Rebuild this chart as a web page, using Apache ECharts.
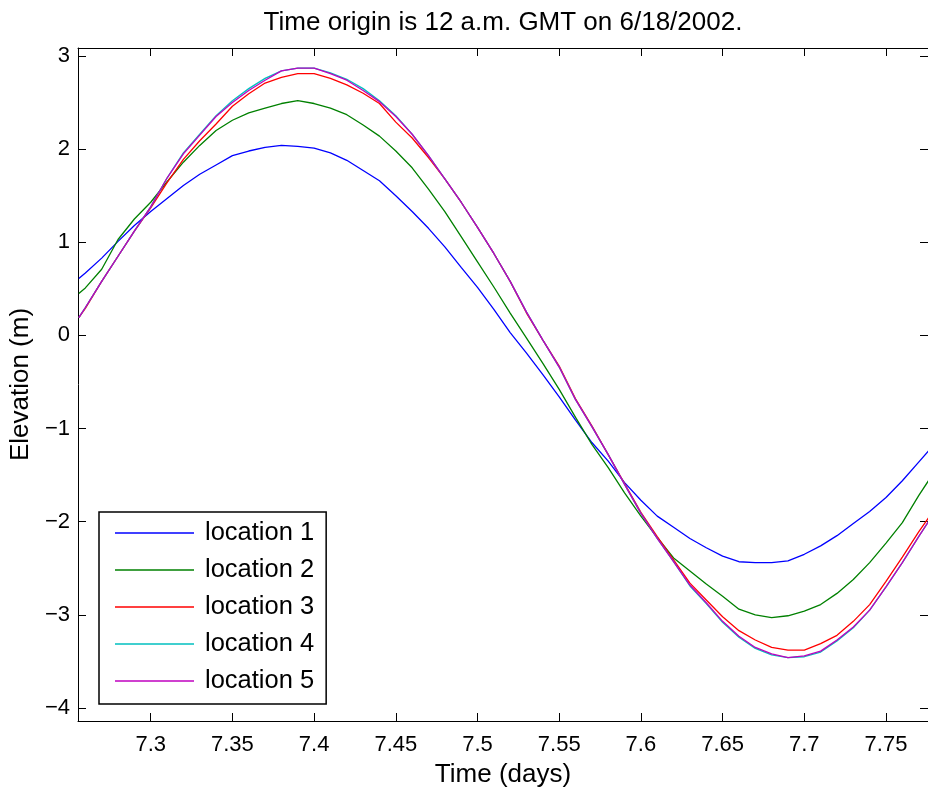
<!DOCTYPE html>
<html>
<head>
<meta charset="utf-8">
<script src="https://cdn.jsdelivr.net/npm/echarts@6/dist/echarts.min.js"></script>
<style>
html,body{margin:0;padding:0;background:#fff;}
#chart{width:928px;height:794px;}
</style>
</head>
<body>
<div id="chart"></div>
<script>
// Time (days since origin)
const time = [7.256, 7.26, 7.27, 7.28, 7.29, 7.30, 7.31, 7.32, 7.33, 7.34, 7.35, 7.36, 7.37, 7.38, 7.39, 7.40,
  7.41, 7.42, 7.43, 7.44, 7.45, 7.46, 7.47, 7.48, 7.49, 7.50, 7.51, 7.52, 7.53, 7.54, 7.55, 7.56, 7.57, 7.58,
  7.59, 7.60, 7.61, 7.62, 7.63, 7.64, 7.65, 7.66, 7.67, 7.68, 7.69, 7.70, 7.71, 7.72, 7.73, 7.74, 7.75, 7.76,
  7.77, 7.776];

const location1 = [0.61, 0.67, 0.83, 1.01, 1.18, 1.33, 1.47, 1.61, 1.73, 1.83, 1.93, 1.98, 2.02, 2.04, 2.03, 2.01,
  1.96, 1.88, 1.77, 1.66, 1.50, 1.33, 1.15, 0.95, 0.73, 0.515, 0.28, 0.03, -0.19, -0.42, -0.66, -0.91, -1.15, -1.35,
  -1.58, -1.77, -1.94, -2.06, -2.18, -2.28, -2.37, -2.43, -2.44, -2.44, -2.42, -2.35, -2.26, -2.15, -2.02, -1.89, -1.74, -1.56,
  -1.36, -1.24];

const location2 = [0.45, 0.51, 0.71, 1.03, 1.25, 1.43, 1.65, 1.86, 2.04, 2.20, 2.31, 2.39, 2.44, 2.49, 2.52, 2.49,
  2.44, 2.37, 2.26, 2.14, 1.98, 1.80, 1.57, 1.33, 1.06, 0.79, 0.52, 0.24, -0.03, -0.30, -0.58, -0.88, -1.17, -1.42,
  -1.69, -1.94, -2.17, -2.39, -2.53, -2.67, -2.80, -2.94, -3.00, -3.03, -3.01, -2.96, -2.89, -2.77, -2.62, -2.44, -2.23, -2.01,
  -1.72, -1.56];

const location3 = [0.19, 0.29, 0.58, 0.85, 1.12, 1.37, 1.64, 1.89, 2.09, 2.27, 2.46, 2.595, 2.71, 2.77, 2.81, 2.81,
  2.76, 2.69, 2.60, 2.49, 2.29, 2.12, 1.91, 1.68, 1.43, 1.16, 0.88, 0.58, 0.24, -0.05, -0.33, -0.68, -0.97, -1.28,
  -1.59, -1.90, -2.16, -2.41, -2.66, -2.84, -3.02, -3.17, -3.27, -3.35, -3.38, -3.38, -3.31, -3.22, -3.07, -2.89, -2.64, -2.38,
  -2.11, -1.96];

const location4 = [0.19, 0.30, 0.58, 0.85, 1.12, 1.38, 1.69, 1.96, 2.16, 2.36, 2.52, 2.65, 2.76, 2.84, 2.87, 2.87,
  2.82, 2.75, 2.65, 2.52, 2.36, 2.16, 1.93, 1.68, 1.43, 1.16, 0.88, 0.58, 0.25, -0.05, -0.34, -0.69, -0.98, -1.28,
  -1.60, -1.91, -2.18, -2.43, -2.69, -2.88, -3.08, -3.24, -3.36, -3.43, -3.46, -3.45, -3.40, -3.28, -3.14, -2.95, -2.70, -2.44,
  -2.16, -2.00];

const location5 = [0.19, 0.30, 0.58, 0.85, 1.12, 1.38, 1.69, 1.95, 2.15, 2.35, 2.50, 2.63, 2.74, 2.84, 2.87, 2.87,
  2.81, 2.74, 2.63, 2.51, 2.35, 2.16, 1.93, 1.68, 1.43, 1.16, 0.88, 0.58, 0.25, -0.05, -0.34, -0.69, -0.98, -1.28,
  -1.60, -1.91, -2.18, -2.43, -2.68, -2.87, -3.07, -3.23, -3.35, -3.42, -3.46, -3.44, -3.39, -3.27, -3.13, -2.95, -2.70, -2.44,
  -2.16, -2.00];

const seriesNames = ['location 1', 'location 2', 'location 3', 'location 4', 'location 5'];
const seriesValues = [location1, location2, location3, location4, location5];
const seriesColors = ['#0000ff', '#008000', '#ff0000', '#00bfbf', '#bf00bf'];

const xMin = 7.2555, xMax = 7.7757;
const yMin = -4.14, yMax = 3.086;

const FONT = 'Liberation Sans, Arial, Helvetica, sans-serif';

const chart = echarts.init(document.getElementById('chart'), null, {renderer: 'canvas'});

function pairs(vals) { return time.map((t, i) => [t, vals[i]]); }

const axisCommon = {
  axisLine: {show: true, onZero: false, lineStyle: {color: '#000', width: 1}},
  axisTick: {show: true, inside: true, length: 8, lineStyle: {color: '#000', width: 1}},
  splitLine: {show: false}
};

const option = {
  animation: false,
  backgroundColor: '#fff',
  title: {
    text: 'Time origin is 12 a.m. GMT on 6/18/2002.',
    left: 498, top: 5, textAlign: 'center',
    textStyle: {fontFamily: FONT, fontSize: 26, fontWeight: 'normal', color: '#000'}
  },
  grid: {left: 78, right: 0, top: 48, bottom: 73, containLabel: false},
  legend: {
    orient: 'vertical',
    left: 99, top: 512,
    data: seriesNames,
    icon: 'rect',
    itemWidth: 79, itemHeight: 1.5,
    itemGap: 11,
    padding: [8, 12, 10, 16],
    borderColor: '#000', borderWidth: 1.5,
    backgroundColor: '#fff',
    textStyle: {fontFamily: FONT, fontSize: 25.5, color: '#000', lineHeight: 26, padding: [0, 0, 0, 6]}
  },
  xAxis: [
    Object.assign({
      type: 'value', position: 'bottom', min: xMin, max: xMax, splitNumber: 10,
      name: 'Time (days)', nameLocation: 'middle', nameGap: 41,
      nameTextStyle: {fontFamily: FONT, fontSize: 26, color: '#000'},
      axisLabel: {show: true, margin: 13, fontFamily: FONT, fontSize: 22, color: '#000',
        showMinLabel: false, showMaxLabel: false}
    }, axisCommon),
    Object.assign({
      type: 'value', position: 'top', min: xMin, max: xMax, splitNumber: 10,
      axisLabel: {show: false}
    }, axisCommon)
  ],
  yAxis: [
    Object.assign({
      type: 'value', position: 'left', min: yMin, max: yMax, splitNumber: 7,
      name: 'Elevation (m)', nameLocation: 'middle', nameGap: 43,
      nameTextStyle: {fontFamily: FONT, fontSize: 26, color: '#000'},
      axisLabel: {show: true, margin: 8, fontFamily: FONT, fontSize: 22, color: '#000',
        showMinLabel: false, showMaxLabel: false,
        formatter: v => String(v).replace('-', '\u2212')}
    }, axisCommon),
    Object.assign({
      type: 'value', position: 'right', min: yMin, max: yMax, splitNumber: 7,
      axisLabel: {show: false}
    }, axisCommon)
  ],
  series: seriesNames.map((name, i) => ({
    name: name,
    type: 'line',
    data: pairs(seriesValues[i]),
    xAxisIndex: 0, yAxisIndex: 0,
    showSymbol: false, symbol: 'none',
    smooth: false,
    lineStyle: {color: seriesColors[i], width: 1.3},
    itemStyle: {color: seriesColors[i]},
    z: 2 + i
  }))
};

chart.setOption(option);
</script>
</body>
</html>
